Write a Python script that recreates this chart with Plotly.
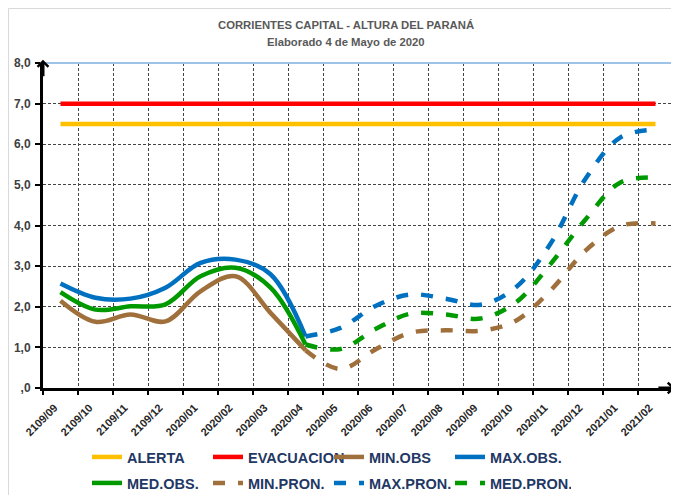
import plotly.graph_objects as go

categories = ["2109/09", "2109/10", "2109/11", "2109/12", "2020/01", "2020/02", "2020/03",
              "2020/04", "2020/05", "2020/06", "2020/07", "2020/08", "2020/09", "2020/10",
              "2020/11", "2020/12", "2021/01", "2021/02"]

alerta = [6.5, 6.5, 6.5, 6.5, 6.5, 6.5, 6.5, 6.5, 6.5, 6.5, 6.5, 6.5, 6.5, 6.5, 6.5, 6.5, 6.5, 6.5]
evacuacion = [7.0, 7.0, 7.0, 7.0, 7.0, 7.0, 7.0, 7.0, 7.0, 7.0, 7.0, 7.0, 7.0, 7.0, 7.0, 7.0, 7.0, 7.0]
min_obs = [2.15, 1.63, 1.81, 1.64, 2.38, 2.75, 1.85, 0.93,
           None, None, None, None, None, None, None, None, None, None]
max_obs = [2.57, 2.22, 2.20, 2.47, 3.08, 3.16, 2.80, 1.27,
           None, None, None, None, None, None, None, None, None, None]
med_obs = [2.36, 1.93, 2.01, 2.06, 2.75, 2.96, 2.47, 1.07,
           None, None, None, None, None, None, None, None, None, None]
min_pron = [None, None, None, None, None, None, None,
            0.93, 0.47, 0.95, 1.36, 1.42, 1.41, 1.65, 2.40, 3.38, 3.99, 4.05]
max_pron = [None, None, None, None, None, None, None,
            1.27, 1.48, 2.02, 2.30, 2.20, 2.05, 2.47, 3.55, 5.15, 6.17, 6.36]
med_pron = [None, None, None, None, None, None, None,
            1.07, 0.96, 1.45, 1.83, 1.81, 1.71, 2.10, 3.05, 4.15, 5.06, 5.18]

y_tickvals = [0, 1, 2, 3, 4, 5, 6, 7, 8]
y_ticktext = [",0", "1,0", "2,0", "3,0", "4,0", "5,0", "6,0", "7,0", "8,0"]

C_ALERTA = "#FFC000"
C_EVAC = "#FF0000"
C_MIN = "#A0703C"
C_MAX = "#0070C0"
C_MED = "#009A00"
DASH = "12px,13px"
LW = 4.5

fig = go.Figure()

def add(name, y, color, dash=None, legend="legend", shape="spline"):
    fig.add_trace(go.Scatter(
        x=categories, y=y, name=name, mode="lines",
        line=dict(color=color, width=LW, dash=dash, shape=shape, smoothing=1.0),
        connectgaps=False, legend=legend, hoverinfo="skip"))

add("ALERTA", alerta, C_ALERTA, shape="linear")
add("EVACUACION", evacuacion, C_EVAC, shape="linear")
add("MIN.OBS", min_obs, C_MIN)
add("MAX.OBS.", max_obs, C_MAX)
add("MED.OBS.", med_obs, C_MED, legend="legend2")
add("MIN.PRON.", min_pron, C_MIN, dash=DASH, legend="legend2")
add("MAX.PRON.", max_pron, C_MAX, dash=DASH, legend="legend2")
add("MED.PRON.", med_pron, C_MED, dash=DASH, legend="legend2")

# The page body has an 8px margin, so the figure is sized/offset to compensate.
OFF = 8
W, H = 679 - OFF, 495 - OFF
L, R, T, B = 43 - OFF, 6, 63 - OFF, 107
pw, ph = W - L - R, H - T - B

def px_x(px):  # px in window coordinates
    return (px - OFF - L) / pw

def px_y(py):
    return (H - B - (py - OFF)) / ph

legend_common = dict(
    orientation="h", xanchor="left", yanchor="middle",
    entrywidth=76, entrywidthmode="pixels", itemwidth=30,
    font=dict(family="Liberation Sans, Arial, sans-serif", size=14.5, color="#1F3864", weight="bold"),
    bgcolor="rgba(0,0,0,0)", tracegroupgap=0, itemclick=False, itemdoubleclick=False,
)

fig.update_layout(
    width=W, height=H,
    margin=dict(l=L, r=R, t=T, b=B, pad=0, autoexpand=False),
    paper_bgcolor="white", plot_bgcolor="white",
    showlegend=True,
    legend=dict(x=px_x(87), y=px_y(457), **legend_common),
    legend2=dict(x=px_x(87), y=px_y(483), **legend_common),
    font=dict(family="Liberation Sans, Arial, sans-serif"),
)

fig.update_xaxes(
    type="category", range=[-0.5, 17.5],
    showline=True, linecolor="black", linewidth=3,
    ticks="outside", ticklen=4, tickwidth=2, tickcolor="black",
    tickson="boundaries",
    showgrid=True, gridcolor="#444444", gridwidth=1, griddash="3px,2px",
    tickangle=-45, ticklabelshift=-6, ticklabelstandoff=6,
    tickfont=dict(size=11, color="#262626", weight="bold"),
    zeroline=False, fixedrange=True, automargin=False,
)
fig.update_yaxes(
    range=[0, 8], tickvals=y_tickvals, ticktext=y_ticktext,
    showline=True, linecolor="black", linewidth=3,
    ticks="outside", ticklen=5, tickwidth=2, tickcolor="black",
    ticklabelstandoff=2,
    showgrid=True, gridcolor="#444444", gridwidth=1, griddash="3px,2px",
    tickfont=dict(size=12, color="#404040", weight="bold"),
    zeroline=False, fixedrange=True, automargin=False,
)

# plot-area border (top and right) and outer chart border
fig.add_shape(type="line", xref="paper", yref="paper", x0=0, x1=1, y0=1, y1=1,
              line=dict(color="#9DC3E6", width=2), layer="above")
fig.add_shape(type="line", xref="paper", yref="paper", x0=1, x1=1, y0=0, y1=1,
              line=dict(color="#9DC3E6", width=2), layer="above")
fig.add_shape(type="rect", xref="paper", yref="paper",
              x0=px_x(8.5), x1=px_x(720), y0=px_y(560), y1=px_y(8.5),
              line=dict(color="#D9D9D9", width=1), fillcolor="rgba(0,0,0,0)", layer="below")

# axis arrows
fig.add_annotation(xref="paper", yref="paper", x=0, y=1.01, ax=0, ay=18, text="",
                   showarrow=True, arrowhead=4, arrowsize=0.7, arrowwidth=3, arrowcolor="black")
fig.add_annotation(xref="paper", yref="paper", x=1.003, y=0, ax=-18, ay=0, text="",
                   showarrow=True, arrowhead=4, arrowsize=0.7, arrowwidth=3, arrowcolor="black")

# titles
fig.add_annotation(xref="paper", yref="paper", x=px_x(346), y=px_y(25),
                   text="CORRIENTES CAPITAL - ALTURA DEL PARANÁ", showarrow=False,
                   font=dict(family="Liberation Sans, Arial, sans-serif", size=11.3, color="#595959", weight="bold"),
                   xanchor="center", yanchor="middle")
fig.add_annotation(xref="paper", yref="paper", x=px_x(346), y=px_y(42),
                   text="Elaborado 4 de Mayo de 2020", showarrow=False,
                   font=dict(family="Liberation Sans, Arial, sans-serif", size=11.3, color="#595959", weight="bold"),
                   xanchor="center", yanchor="middle")

fig.write_html("out.html")
